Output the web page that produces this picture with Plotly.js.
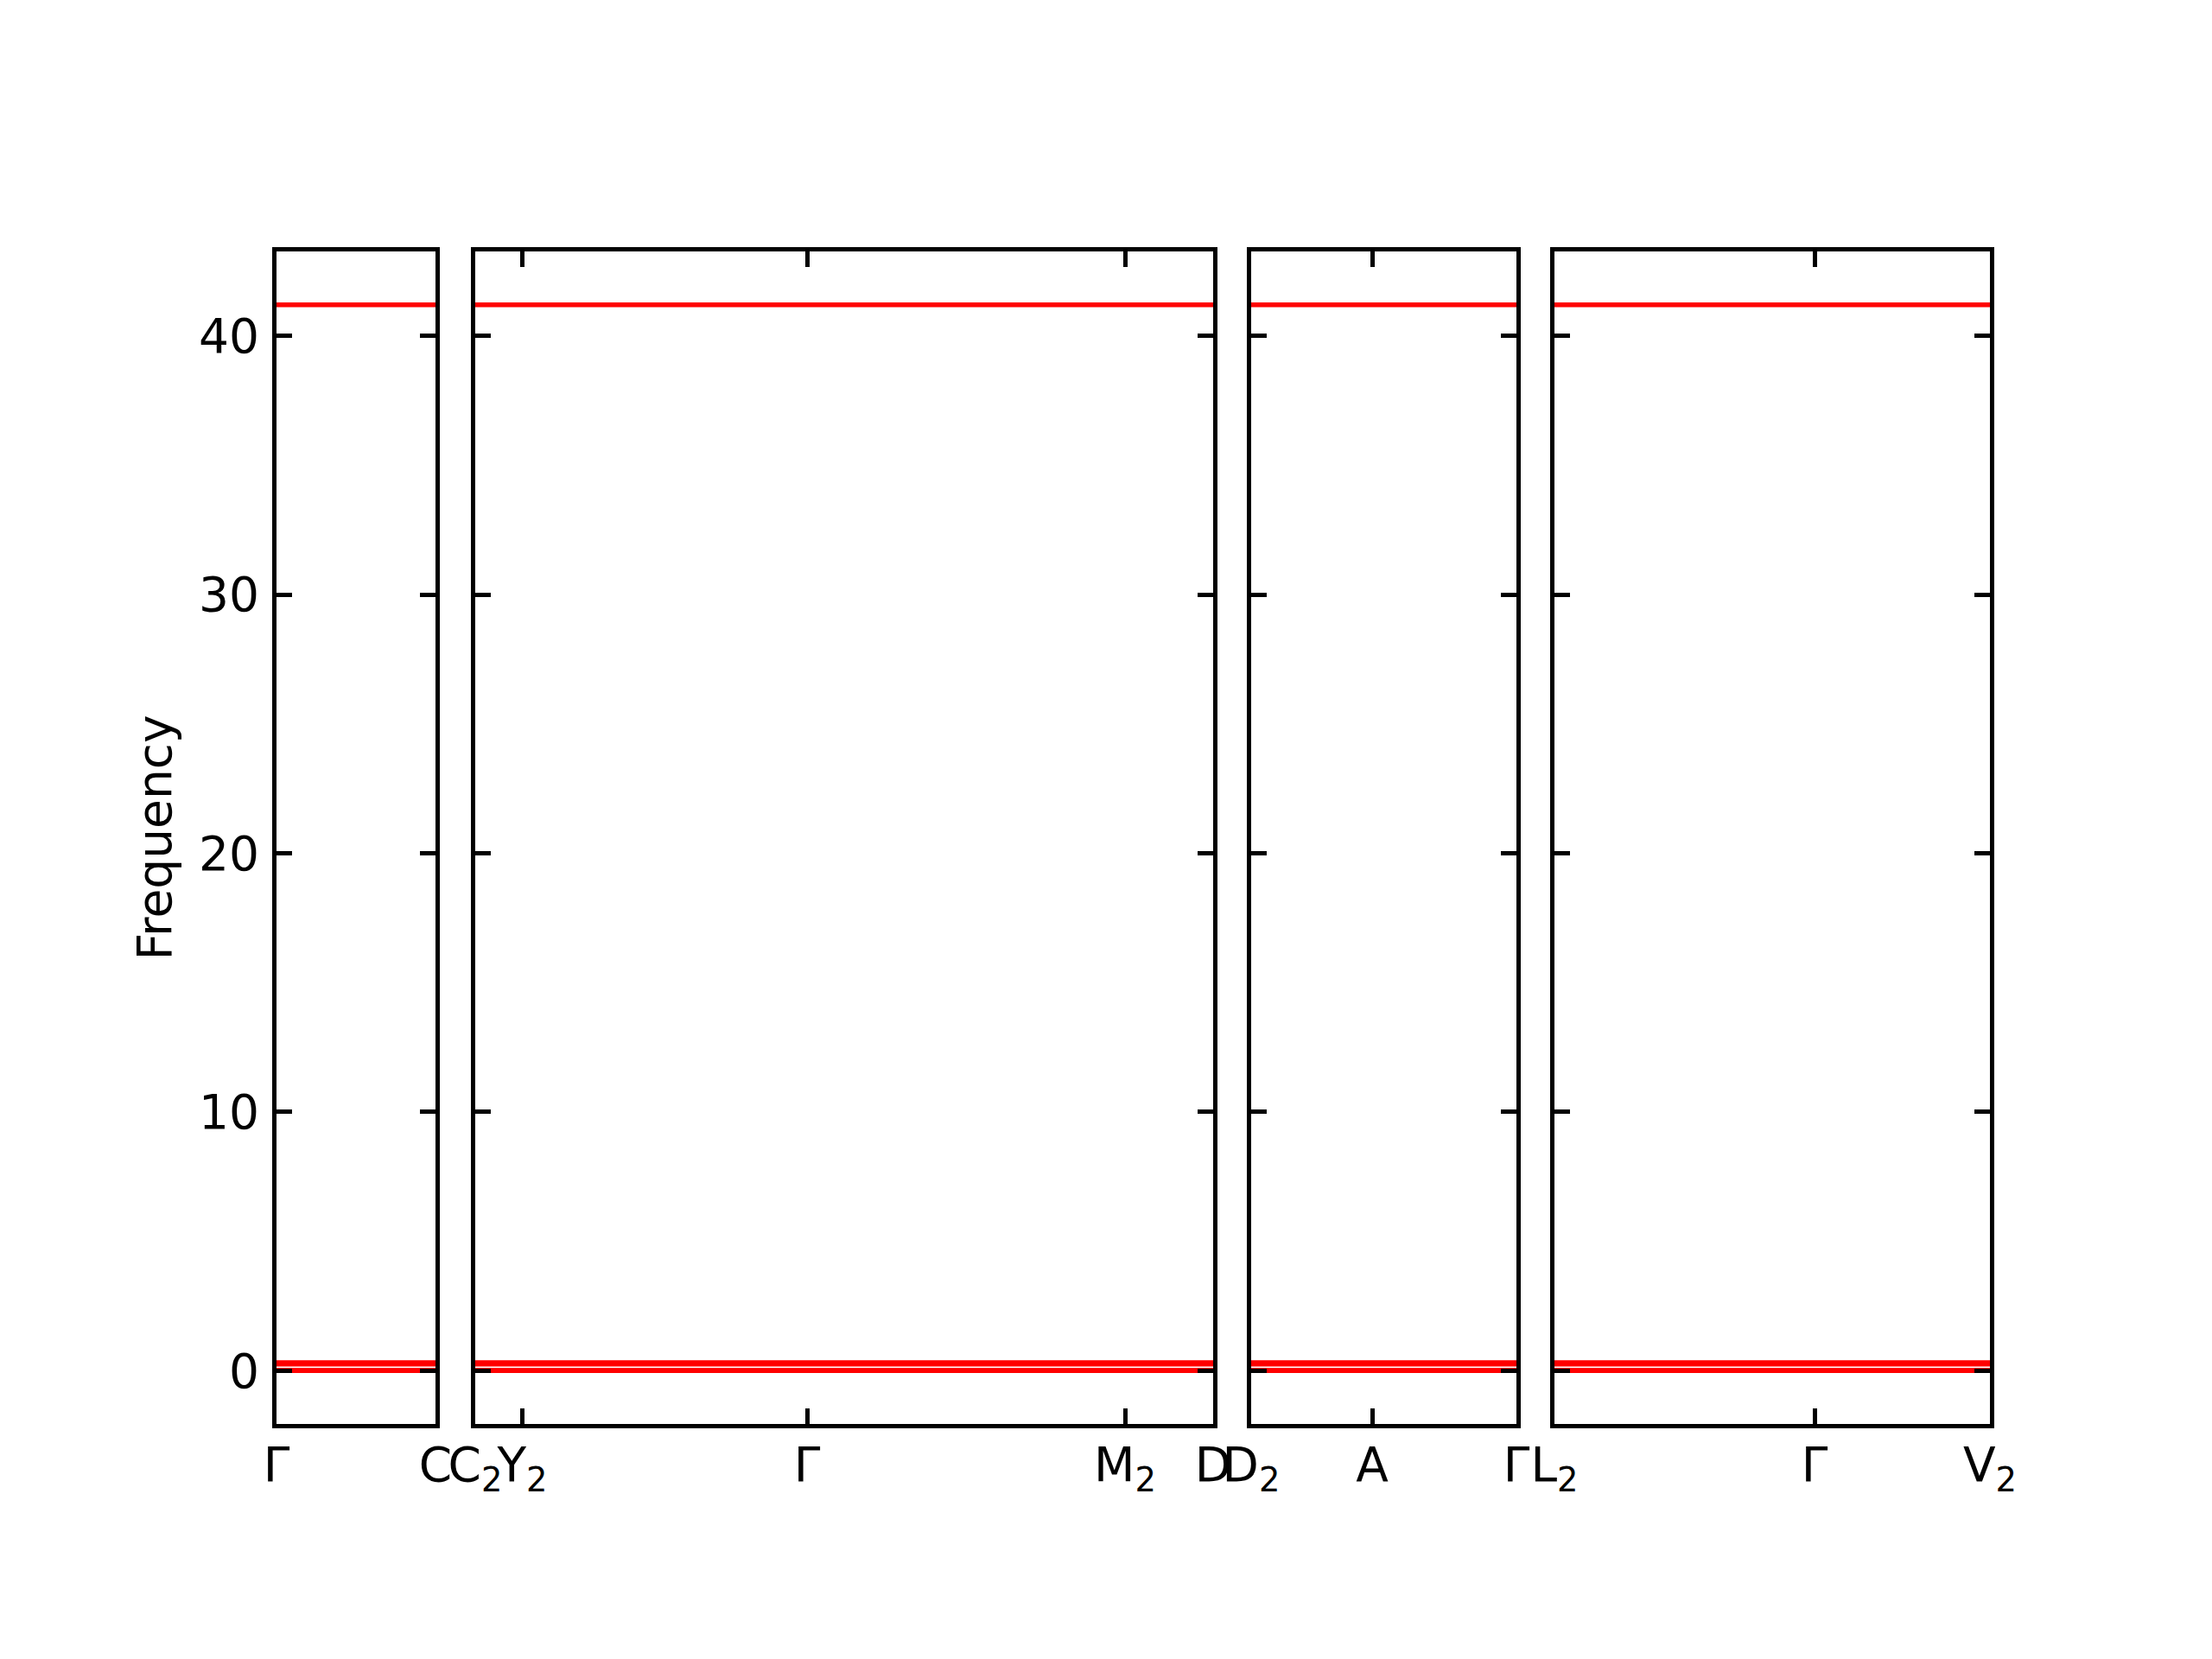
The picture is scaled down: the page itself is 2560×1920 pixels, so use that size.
<!DOCTYPE html>
<html>
<head>
<meta charset="utf-8">
<script src="https://cdn.plot.ly/plotly-3.0.1.min.js"></script>
<style>html,body{margin:0;padding:0;background:#fff;}#chart{width:2560px;height:1920px;}</style>
</head>
<body>
<div id="chart"></div>
<script>
// Path coordinates (cumulative distance) of the high-symmetry points, one array per panel
const panel1Ticks = [0.0, 0.184];
const panel1Labels = ["Γ", "C"];
const panel2Ticks = [0.184, 0.2385, 0.568, 0.936, 1.038];
const panel2Labels = ["C<sub>2</sub>", "Y<sub>2</sub>", "Γ", "M<sub>2</sub>", "D"];
const panel3Ticks = [1.038, 1.178, 1.345];
const panel3Labels = ["D<sub>2</sub>", "A", "Γ"];
const panel4Ticks = [1.345, 1.646, 1.849];
const panel4Labels = ["L<sub>2</sub>", "Γ", "V<sub>2</sub>"];

// Band frequencies (flat bands along the whole path)
const bandFrequencies = [0.0, 0.0, 0.0, 0.25, 0.31, 41.2];

const yTickVals = [0, 10, 20, 30, 40];
const yRange = [-2.06, 43.26];

const panels = [panel1Ticks, panel2Ticks, panel3Ticks, panel4Ticks];
const panelLabels = [panel1Labels, panel2Labels, panel3Labels, panel4Labels];

const FONT = "DejaVu Sans, sans-serif";
const FS = 55;
const LW = 5;

const traces = [];
panels.forEach((ticks, i) => {
  const xs = [ticks[0], ticks[ticks.length - 1]];
  bandFrequencies.forEach(f => {
    traces.push({
      type: "scatter", mode: "lines",
      x: xs, y: [f, f],
      xaxis: i === 0 ? "x" : "x" + (i + 1),
      yaxis: i === 0 ? "y" : "y" + (i + 1),
      line: {color: "#ff0000", width: 5.5},
      hoverinfo: "skip", showlegend: false
    });
  });
});

// Panel edges in pixels: 320-504, 550-1404, 1448-1755, 1799-2303
const L = 320, R = 2303;
const W = R - L;
const edges = [[320, 504], [550, 1404], [1448, 1755], [1799, 2303]];

const layout = {
  width: 2560, height: 1920,
  paper_bgcolor: "#ffffff", plot_bgcolor: "rgba(0,0,0,0)",
  margin: {l: L, r: 2560 - R, t: 291, b: 1920 - 1648, pad: 0},
  showlegend: false,
  font: {family: FONT, size: FS, color: "#000000"}
};

panels.forEach((ticks, i) => {
  const xName = i === 0 ? "xaxis" : "xaxis" + (i + 1);
  const yName = i === 0 ? "yaxis" : "yaxis" + (i + 1);
  const xRef = i === 0 ? "x" : "x" + (i + 1);
  const yRef = i === 0 ? "y" : "y" + (i + 1);
  layout[xName] = {
    domain: [(edges[i][0] - L) / W, (edges[i][1] - L) / W],
    anchor: yRef,
    range: [ticks[0], ticks[ticks.length - 1]],
    tickmode: "array", tickvals: ticks, ticktext: panelLabels[i],
    tickangle: 0,
    ticks: "inside", ticklen: 18, tickwidth: LW, tickcolor: "#000",
    showline: true, linewidth: LW, linecolor: "#000", mirror: "ticks",
    showgrid: false, zeroline: false, fixedrange: true,
    tickfont: {family: FONT, size: FS, color: "#000"},
    ticklabelstandoff: -5,
    automargin: false
  };
  layout[yName] = {
    domain: [0, 1],
    anchor: xRef,
    range: yRange,
    tickmode: "array", tickvals: yTickVals,
    ticktext: yTickVals.map(String),
    showticklabels: i === 0,
    ticks: "inside", ticklen: 18, tickwidth: LW, tickcolor: "#000",
    showline: true, linewidth: LW, linecolor: "#000", mirror: "ticks",
    showgrid: false, zeroline: false, fixedrange: true,
    tickfont: {family: FONT, size: FS, color: "#000"},
    automargin: false
  };
  if (i > 0) layout[yName].matches = "y";
});
layout.yaxis.title = {text: "Frequency", font: {family: FONT, size: FS, color: "#000"}, standoff: 15};
layout.yaxis.ticklabelstandoff = 4;

Plotly.newPlot("chart", traces, layout, {staticPlot: true, displayModeBar: false});
</script>
</body>
</html>
